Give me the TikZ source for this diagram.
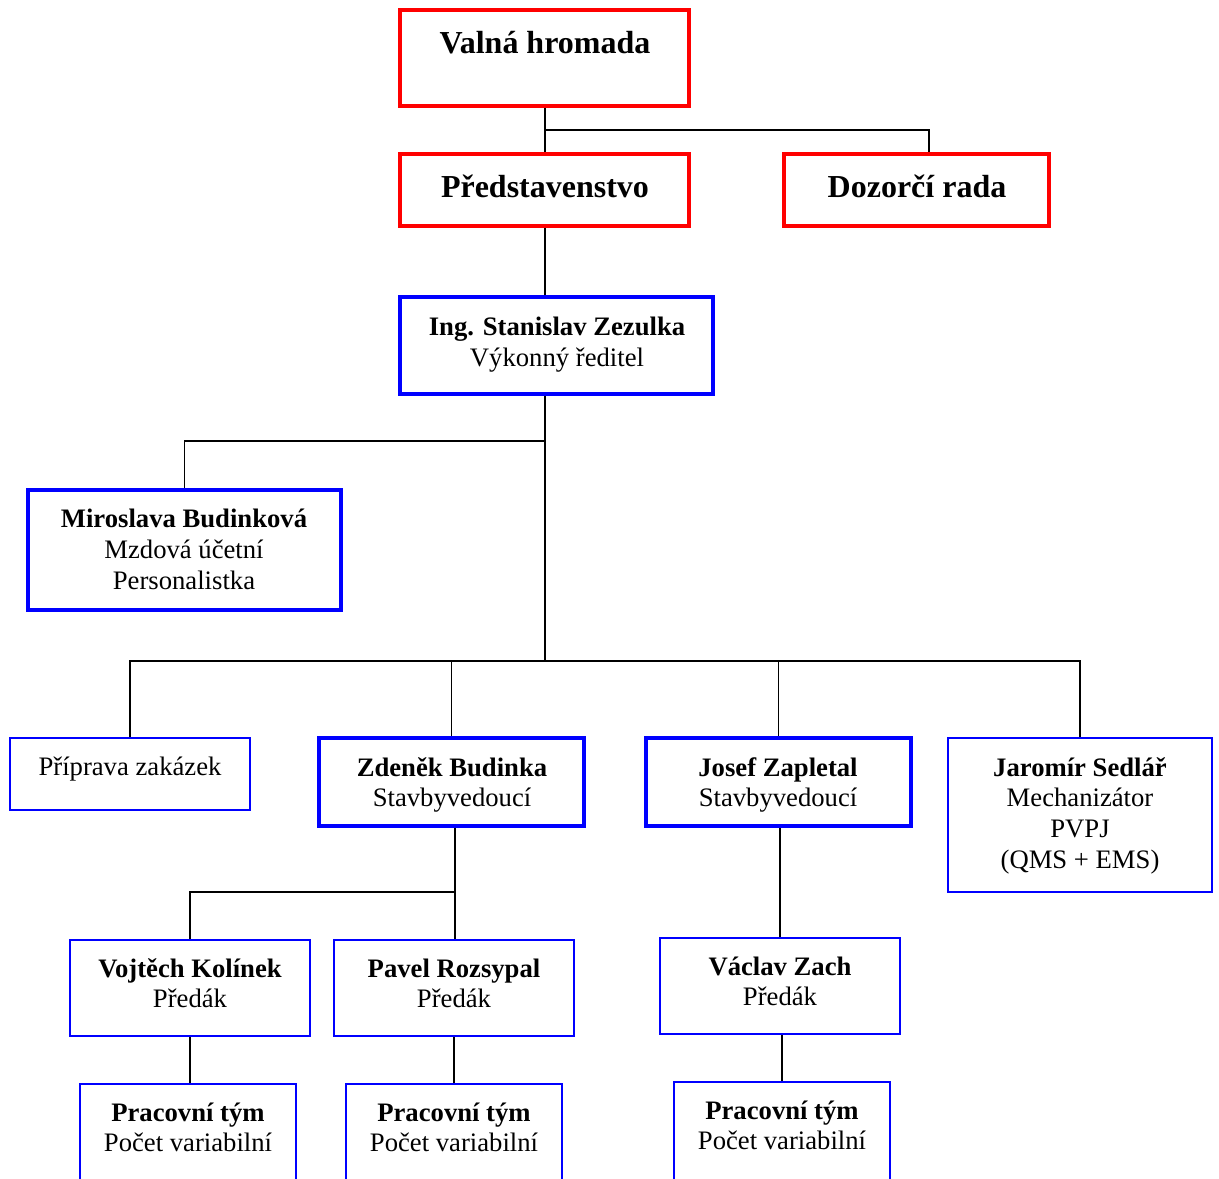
\documentclass[tikz,border=0pt]{standalone}
\usepackage{fontspec}
\setmainfont{Liberation Serif}
\usetikzlibrary{fit,calc}
\begin{document}
\begin{tikzpicture}[x=0.75pt,y=-0.75pt,
  boxbase/.style={inner sep=0pt,minimum size=0pt},
  redbox/.style={boxbase,draw=red,line width=2.5pt},
  bluethick/.style={boxbase,draw=blue,line width=2.5pt},
  bluethin/.style={boxbase,draw=blue,line width=1.5pt},
  conn/.style={draw=black,line width=1.1pt},
  txt/.style={inner sep=0pt,anchor=base,font=\fontsize{20}{23}\selectfont},
  btxt/.style={txt,font=\fontsize{20}{23}\selectfont\bfseries},
  ttl/.style={inner sep=0pt,anchor=base,font=\fontsize{24}{28}\selectfont\bfseries}]
\useasboundingbox (0,0) rectangle (1219,1178);
\clip (0,0) rectangle (1219,1178);
% boxes
\node[redbox,fit={(400,10)(689,106)}] (vh) {};
\node[redbox,fit={(400,154)(689,226)}] (pr) {};
\node[redbox,fit={(784,154)(1049,226)}] (dz) {};
\node[bluethick,fit={(400,297)(713,394)}] (ing) {};
\node[bluethick,fit={(28,490)(341,610)}] (mb) {};
\node[bluethin,fit={(10,738)(250,810)}] (pz) {};
\node[bluethick,fit={(319,738)(584,826)}] (zb) {};
\node[bluethick,fit={(646,738)(911,826)}] (jz) {};
\node[bluethin,fit={(948,738)(1212,892)}] (js) {};
\node[bluethin,fit={(70,940)(310,1036)}] (vk) {};
\node[bluethin,fit={(334,940)(574,1036)}] (pv) {};
\node[bluethin,fit={(660,938)(900,1034)}] (vz) {};
\node[bluethin,fit={(80,1084)(296,1220)}] (pt1) {};
\node[bluethin,fit={(346,1084)(562,1220)}] (pt2) {};
\node[bluethin,fit={(674,1082)(890,1220)}] (pt3) {};
% texts
\node[ttl] (vh-t) at (545,53) {Valná hromada};
\node[ttl] (pr-t) at (545,197) {Představenstvo};
\node[ttl] (dz-t) at (917,197) {Dozorčí rada};
\node[btxt] (ing-t1) at (557,335) {Ing. Stanislav Zezulka};
\node[txt] (ing-t2) at (557,366) {Výkonný ředitel};
\node[btxt] (mb-t1) at (184,527) {Miroslava Budinková};
\node[txt] (mb-t2) at (184,558) {Mzdová účetní};
\node[txt] (mb-t3) at (184,589) {Personalistka};
\node[txt] (pz-t) at (130,775) {Příprava zakázek};
\node[btxt] (zb-t1) at (452,776) {Zdeněk Budinka};
\node[txt] (zb-t2) at (452,806) {Stavbyvedoucí};
\node[btxt] (jz-t1) at (778,776) {Josef Zapletal};
\node[txt] (jz-t2) at (778,806) {Stavbyvedoucí};
\node[btxt] (js-t1) at (1080,776) {Jaromír Sedlář};
\node[txt] (js-t2) at (1080,806) {Mechanizátor};
\node[txt] (js-t3) at (1080,837) {PVPJ};
\node[txt] (js-t4) at (1080,868) {(QMS + EMS)};
\node[btxt] (vk-t1) at (190,977) {Vojtěch Kolínek};
\node[txt] (vk-t2) at (190,1007) {Předák};
\node[btxt] (pv-t1) at (454,977) {Pavel Rozsypal};
\node[txt] (pv-t2) at (454,1007) {Předák};
\node[btxt] (vz-t1) at (780,975) {Václav Zach};
\node[txt] (vz-t2) at (780,1005) {Předák};
\node[btxt] (pt1-t1) at (188,1121) {Pracovní tým};
\node[txt] (pt1-t2) at (188,1151) {Počet variabilní};
\node[btxt] (pt2-t1) at (454,1121) {Pracovní tým};
\node[txt] (pt2-t2) at (454,1151) {Počet variabilní};
\node[btxt] (pt3-t1) at (782,1119) {Pracovní tým};
\node[txt] (pt3-t2) at (782,1149) {Počet variabilní};
% junctions
\coordinate (j1) at (545,130);
\coordinate (j2) at (545,441);
\coordinate (j3) at (545,661);
\coordinate (j4) at (455,892);
% connectors
\draw[conn] (vh.south -| j1) -- (pr.north -| j1);
\draw[conn] (j1) -| ($(dz.north)+(12.5,0)$);
\draw[conn] (pr.south -| j1) -- (ing.north -| j1);
\draw[conn] (ing.south -| j1) -- (j3);
\draw[conn] (j2) -| (mb.north);
\draw[conn] (j3) -| (pz.north);
\draw[conn] (j3) -| (zb.north);
\draw[conn] (j3) -| (jz.north);
\draw[conn] (j3) -| (js.north);
\draw[conn] (zb.south -| j4) -- (pv.north -| j4);
\draw[conn] (j4) -| (vk.north);
\draw[conn] (jz.south -| vz.north) -- (vz.north);
\draw[conn] (vk.south) -- (vk.south |- pt1.north);
\draw[conn] (pv.south) -- (pv.south |- pt2.north);
\draw[conn] (vz.south -| pt3.north) -- (pt3.north);
\end{tikzpicture}
\end{document}
